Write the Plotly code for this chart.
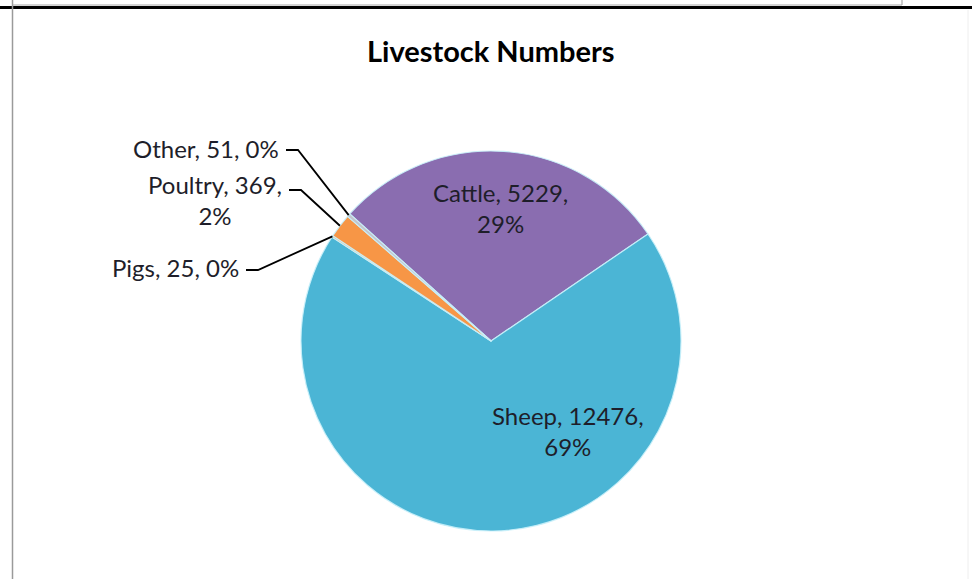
import math
import plotly.graph_objects as go

W, H = 972, 579

# ---- data ----
categories = ["Cattle", "Sheep", "Pigs", "Poultry", "Other"]
values = [5229, 12476, 25, 369, 51]
percent_labels = ["29%", "69%", "0%", "2%", "0%"]
colors = ["#8A6DB0", "#4BB5D5", "#F0A050", "#F79646", "#C4C4CC"]

# ---- layout constants (pixels) ----
CX, CY, R = 491, 341, 190
ROT = -48  # start angle of first slice, degrees clockwise from 12 o'clock
FONT = "Lato"
TXT = "#1E1E2A"


def px(x):
    return x / W


def py(y):
    return 1 - y / H


total = sum(values)

fig = go.Figure()
fig.add_trace(go.Pie(
    labels=categories,
    values=values,
    textinfo="none",
    marker=dict(colors=colors, line=dict(color="rgba(200,240,250,0.9)", width=1.2)),
    sort=False,
    direction="clockwise",
    rotation=ROT,
    showlegend=False,
    hoverinfo="label+value+percent",
    domain=dict(x=[px(CX - R), px(CX + R)], y=[py(CY + R), py(CY - R)]),
))

# label placement (pixels): (x, y, xanchor)
label_pos = {
    "Cattle": (501, 208, "center"),
    "Sheep": (568, 431, "center"),
    "Other": (281, 148, "right"),
    "Poultry": (284, 200, "right"),
    "Pigs": (241, 268, "right"),
}
label_text = {
    "Cattle": "Cattle, 5229,<br>29%",
    "Sheep": "Sheep, 12476,<br>69%",
    "Other": "Other, 51, 0%",
    "Poultry": "Poultry, 369,<br>2%",
    "Pigs": "Pigs, 25, 0%",
}
leader_y = {"Other": 150, "Poultry": 190, "Pigs": 270}

shapes = []
annotations = []
cum = 0.0
for c, v in zip(categories, values):
    a0 = ROT + 360 * cum / total
    cum += v
    a1 = ROT + 360 * cum / total
    lx, ly, xa = label_pos[c]
    annotations.append(dict(
        x=px(lx), y=py(ly), xref="paper", yref="paper",
        text=label_text[c], showarrow=False,
        xanchor=xa, yanchor="middle", align="center",
        font=dict(family=FONT, size=24, color=TXT),
    ))
    if c in leader_y:
        mid = math.radians((a0 + a1) / 2)
        ex = CX + R * math.sin(mid)
        ey = CY - R * math.cos(mid)
        hy = leader_y[c]
        hx0 = lx + 5
        hx1 = lx + 17
        shapes.append(dict(
            type="path", xref="paper", yref="paper",
            path=f"M {px(hx0)} {py(hy)} L {px(hx1)} {py(hy)} L {px(ex)} {py(ey)}",
            line=dict(color="black", width=1.8),
        ))

# title
annotations.append(dict(
    x=px(491), y=py(51), xref="paper", yref="paper",
    text="<b>Livestock Numbers</b>", showarrow=False,
    xanchor="center", yanchor="middle",
    font=dict(family=FONT, size=29, color="black"),
))

# page frame decorations
shapes += [
    dict(type="line", xref="paper", yref="paper", x0=0, x1=1, y0=py(7.5), y1=py(7.5),
         line=dict(color="black", width=2.8)),
    dict(type="line", xref="paper", yref="paper", x0=px(12.5), x1=px(12.5), y0=py(0), y1=py(H),
         line=dict(color="#9A9A9A", width=1.5)),
    dict(type="line", xref="paper", yref="paper", x0=px(12.5), x1=px(902), y0=py(5), y1=py(5),
         line=dict(color="#A8A8A8", width=1.2)),
    dict(type="line", xref="paper", yref="paper", x0=px(902), x1=px(902), y0=py(0), y1=py(5),
         line=dict(color="#A8A8A8", width=1.2)),
    dict(type="line", xref="paper", yref="paper", x0=px(968), x1=px(968), y0=py(10), y1=py(H),
         line=dict(color="#EEEEEE", width=1)),
]

fig.update_layout(
    width=W, height=H,
    margin=dict(l=0, r=0, t=0, b=0),
    paper_bgcolor="white",
    plot_bgcolor="white",
    shapes=shapes,
    annotations=annotations,
    font=dict(family=FONT),
)

fig.write_html(
    "out.html",
    config={"displayModeBar": False},
    post_script="document.body.style.margin='0';document.body.style.overflow='hidden';",
)
